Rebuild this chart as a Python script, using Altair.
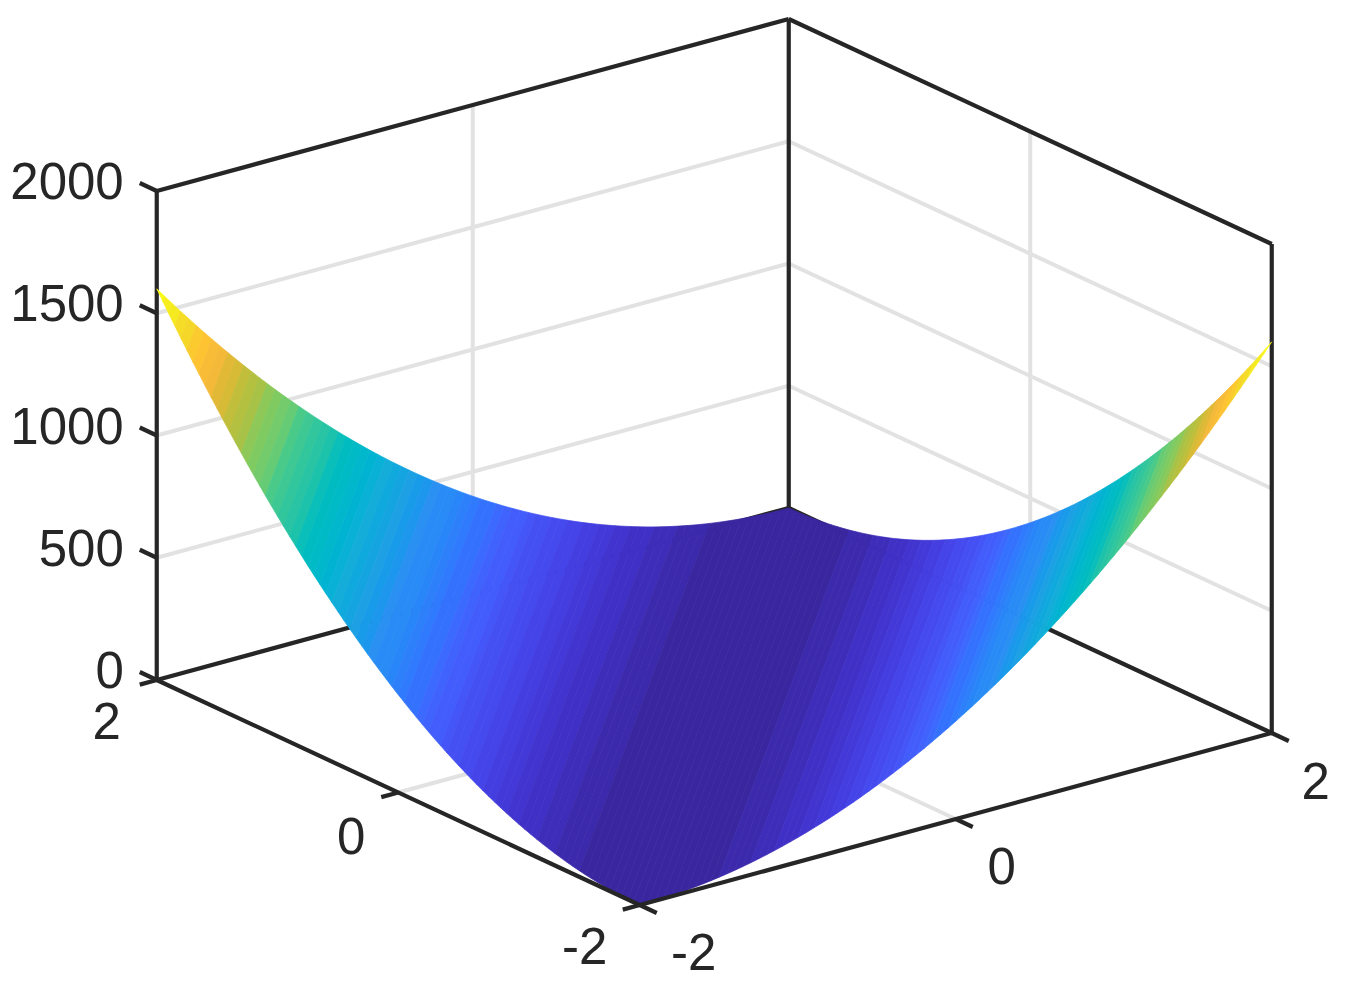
import altair as alt
import pandas as pd

# --- values ---
half_offsets = [round(i * 0.05, 2) for i in range(81)]  # |x - y| across the surface, valley outwards
half_heights = [0, 0.25, 1, 2.25, 4, 6.25, 9, 12.25, 16, 20.25, 25, 30.25, 36, 42.25, 49, 56.25, 64, 72.25, 81, 90.25,
                100, 110.25, 121, 132.25, 144, 156.25, 169, 182.25, 196, 210.25, 225, 240.25, 256, 272.25, 289, 306.25,
                324, 342.25, 361, 380.25, 400, 420.25, 441, 462.25, 484, 506.25, 529, 552.25, 576, 600.25, 625, 650.25,
                676, 702.25, 729, 756.25, 784, 812.25, 841, 870.25, 900, 930.25, 961, 992.25, 1024, 1056.25, 1089,
                1122.25, 1156, 1190.25, 1225, 1260.25, 1296, 1332.25, 1369, 1406.25, 1444, 1482.25, 1521, 1560.25, 1600]
offset_values = [-d for d in half_offsets[:0:-1]] + half_offsets
height_values = half_heights[:0:-1] + half_heights
z_ticks = [0, 500, 1000, 1500, 2000]
z_labels = ["0", "500", "1000", "1500", "2000"]
xy_ticks = [-2, 0, 2]
xy_labels = ["-2", "0", "2"]
cmap_stops = [0, .05, .1, .15, .2, .25, .3, .35, .4, .45, .5, .55, .6, .65, .7, .75, .8, .85, .9, .95, 1]
cmap_colors = ["#3a279f", "#4030c8", "#4440e4", "#4553f6", "#3f66ff", "#2f7ffb", "#2b8ff2", "#1fa1e4",
               "#16aed8", "#04b8ca", "#14bfb5", "#2fc59f", "#55cb80", "#7fcb62", "#a9c246", "#cfba35",
               "#f2b73a", "#fec034", "#f5d52b", "#f5e821", "#f9fb15"]
COLOR_LEVELS = 64
Z_MAX = 1600.0
INK = "#262626"
GRID = "#e2e2e2"
FONT = "Liberation Sans"

# viewing transform of the 3-D box, in canvas units
ORIGIN = (714.25, 706.5)
EX = (158.0, -43.0)
EY = (-120.75, -56.25)
EZ = -489.0 / 2000.0


def project(x, y, z=0.0):
    return ORIGIN[0] + x * EX[0] + y * EY[0], ORIGIN[1] + x * EX[1] + y * EY[1] + z * EZ


def strip_corners(d):
    """The two ends of the straight line x - y = d inside the square."""
    if d <= 0:
        return (-2.0, -2.0 - d), (2.0 + d, 2.0)
    return (-2.0 + d, -2.0), (2.0, 2.0 - d)


# surface strips
rows = []
for i in range(len(offset_values) - 1):
    d0, d1 = offset_values[i], offset_values[i + 1]
    z0, z1 = height_values[i], height_values[i + 1]
    a0, b0 = strip_corners(d0)
    a1, b1 = strip_corners(d1)
    mean = (z0 + z1) / 2
    level = min(int(mean / Z_MAX * COLOR_LEVELS), COLOR_LEVELS - 1) / (COLOR_LEVELS - 1)
    poly = [(a0, z0), (b0, z0), (b1, z1), (a1, z1), (a0, z0)]
    for k, (p, z) in enumerate(poly):
        sx, sy = project(p[0], p[1], z)
        rows.append(dict(strip=i, k=k, sx=sx, sy=sy, level=level))
surface = pd.DataFrame(rows)


def segments(seg_list):
    out = []
    for n, (p, q) in enumerate(seg_list):
        out.append(dict(seg=n, k=0, sx=p[0], sy=p[1]))
        out.append(dict(seg=n, k=1, sx=q[0], sy=q[1]))
    return pd.DataFrame(out)


grid_segs = []
for z in z_ticks[1:-1]:
    grid_segs.append((project(-2, 2, z), project(2, 2, z)))
    grid_segs.append((project(2, 2, z), project(2, -2, z)))
grid_segs.append((project(0, 2, 0), project(0, 2, 2000)))
grid_segs.append((project(2, 0, 0), project(2, 0, 2000)))
grid_segs.append((project(0, 2, 0), project(0, -2, 0)))
grid_segs.append((project(-2, 0, 0), project(2, 0, 0)))

back_segs = [
    (project(-2, 2, 0), project(-2, 2, 2000)),
    (project(-2, 2, 2000), project(2, 2, 2000)),
    (project(2, 2, 2000), project(2, -2, 2000)),
    (project(2, -2, 2000), project(2, -2, 0)),
    (project(2, 2, 2000), project(2, 2, 0)),
    (project(-2, 2, 0), project(2, 2, 0)),
    (project(2, 2, 0), project(2, -2, 0)),
]

TICK_Z = (-17, -8)
TICK_Y = (-17, 4.6)
TICK_X = (17, 8)
front_segs = [
    (project(-2, 2, 0), project(-2, -2, 0)),
    (project(-2, -2, 0), project(2, -2, 0)),
]
for z in z_ticks:
    p = project(-2, 2, z)
    front_segs.append((p, (p[0] + TICK_Z[0], p[1] + TICK_Z[1])))
for v in xy_ticks:
    p = project(-2, v, 0)
    front_segs.append((p, (p[0] + TICK_Y[0], p[1] + TICK_Y[1])))
    p = project(v, -2, 0)
    front_segs.append((p, (p[0] + TICK_X[0], p[1] + TICK_X[1])))

# label offsets from their tick, for -2, 0, 2
Y_LABEL_OFFSET = [(-55, 44), (-47, 46), (-50, 44)]
X_LABEL_OFFSET = [(54, 50), (46, 50), (44, 51)]

text_rows = []
for z, lab in zip(z_ticks, z_labels):
    p = project(-2, 2, z)
    text_rows.append(dict(sx=p[0] - 33, sy=p[1] - 7, label=lab, al="right"))
for v, lab, oy, ox in zip(xy_ticks, xy_labels, Y_LABEL_OFFSET, X_LABEL_OFFSET):
    p = project(-2, v, 0)
    text_rows.append(dict(sx=p[0] + oy[0], sy=p[1] + oy[1], label=lab, al="center"))
    p = project(v, -2, 0)
    text_rows.append(dict(sx=p[0] + ox[0], sy=p[1] + ox[1], label=lab, al="center"))
texts = pd.DataFrame(text_rows)

X = alt.X("sx:Q", axis=None, scale=alt.Scale(domain=[8, 1339], nice=False, zero=False))
Y = alt.Y("sy:Q", axis=None, scale=alt.Scale(domain=[984, 8], nice=False, zero=False))


def line_layer(df, color, width):
    return alt.Chart(df).mark_line(color=color, strokeWidth=width, strokeCap="butt", clip=False).encode(
        x=X, y=Y, detail="seg:N", order="k:Q"
    )


color_scale = alt.Scale(domain=cmap_stops, range=cmap_colors)
surf = alt.Chart(surface).mark_line(strokeWidth=0.7, clip=False).encode(
    x=X, y=Y, detail="strip:N", order="k:Q",
    fill=alt.Fill("level:Q", scale=color_scale, legend=None),
    stroke=alt.Stroke("level:Q", scale=color_scale, legend=None),
)

labels_right = alt.Chart(texts[texts.al == "right"]).mark_text(
    font=FONT, fontSize=51, color=INK, align="right", baseline="middle"
).encode(x=X, y=Y, text="label:N")
labels_center = alt.Chart(texts[texts.al == "center"]).mark_text(
    font=FONT, fontSize=51, color=INK, align="center", baseline="middle"
).encode(x=X, y=Y, text="label:N")

chart = alt.layer(
    line_layer(segments(grid_segs), GRID, 4),
    line_layer(segments(back_segs), INK, 4.2),
    surf,
    line_layer(segments(front_segs), INK, 4.2),
    labels_right,
    labels_center,
).properties(width=1331, height=976, padding=0, background="white", autosize=alt.AutoSizeParams(type="none")
).configure_view(stroke=None)

chart.save("out.html", embed_options={"renderer": "svg", "actions": False})
